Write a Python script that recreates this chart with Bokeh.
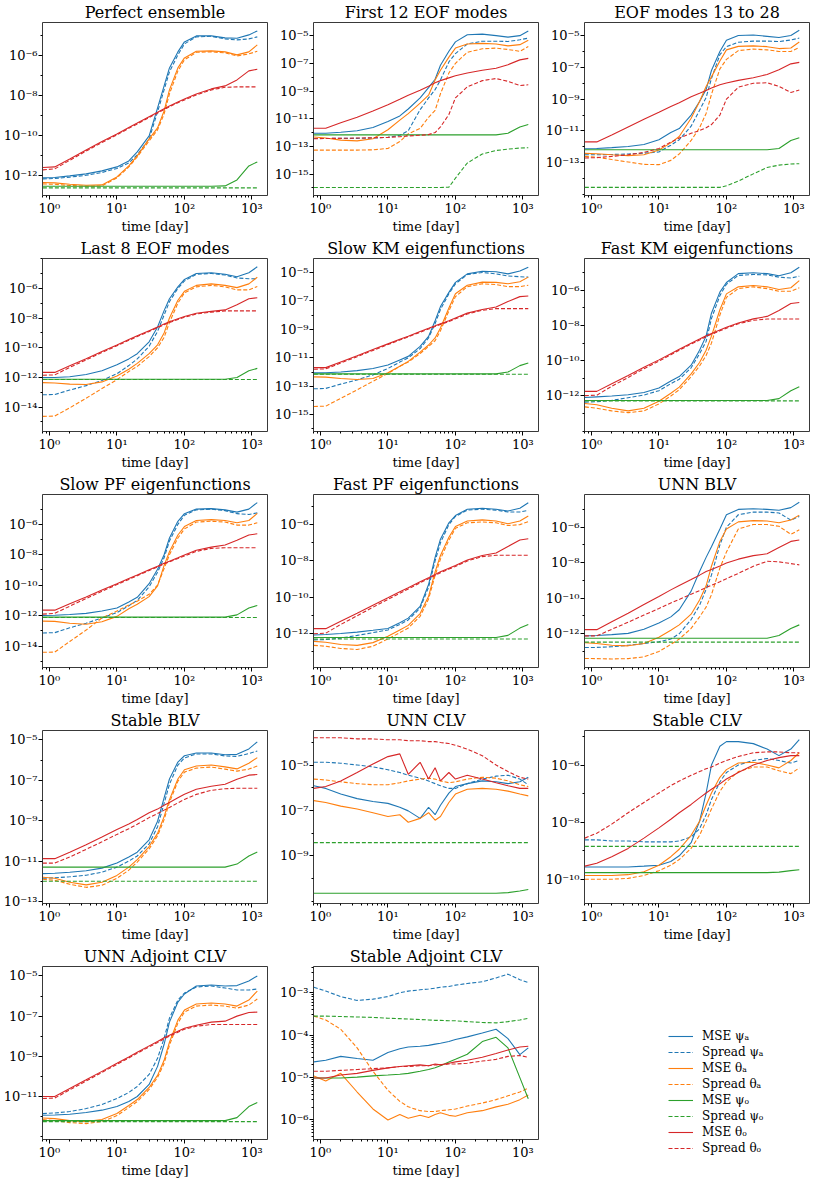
from bokeh.plotting import figure
from bokeh.layouts import row, column
from bokeh.models import Range1d, FixedTicker, Legend, LegendItem
from bokeh.embed import file_html
from bokeh.resources import INLINE

# ---------------- data (log10 of the plotted quantities) ----------------
T = [0.8, 1.2, 2, 3.5, 6, 10, 15, 20, 30, 40, 50, 60, 80, 100, 150, 250, 400, 600, 900, 1200]

# Perfect ensemble
p01_msepa = [-12.1, -12.08, -12.0, -11.9, -11.75, -11.55, -11.25, -10.8, -10.0, -8.6, -7.5, -6.6, -5.8, -5.3, -5.0, -5.0, -5.1, -5.12, -4.95, -4.75]
p01_sprpa = [-12.15, -12.13, -12.06, -11.97, -11.83, -11.63, -11.35, -10.95, -10.15, -8.8, -7.7, -6.8, -5.95, -5.4, -5.05, -5.02, -5.15, -5.2, -5.15, -5.05]
p01_mseta = [-12.33, -12.35, -12.42, -12.47, -12.45, -12.05, -11.5, -11.0, -10.15, -9.6, -8.75, -7.7, -6.6, -6.1, -5.77, -5.75, -5.8, -5.95, -5.8, -5.45]
p01_sprta = [-12.4, -12.42, -12.48, -12.52, -12.5, -12.1, -11.55, -11.05, -10.25, -9.7, -8.9, -7.9, -6.75, -6.2, -5.82, -5.8, -5.85, -6.0, -5.9, -5.77]
p01_msepo = [-12.52, -12.52, -12.52, -12.52, -12.52, -12.52, -12.52, -12.52, -12.52, -12.52, -12.52, -12.52, -12.52, -12.52, -12.52, -12.52, -12.5, -12.2, -11.5, -11.3]
p01_sprpo = [-12.6, -12.6, -12.6, -12.6, -12.6, -12.6, -12.6, -12.6, -12.6, -12.6, -12.6, -12.6, -12.6, -12.6, -12.6, -12.6, -12.6, -12.6, -12.6, -12.6]
p01_mseto = [-11.58, -11.55, -11.15, -10.7, -10.28, -9.91, -9.58, -9.36, -9.04, -8.82, -8.64, -8.5, -8.3, -8.15, -7.9, -7.65, -7.5, -7.2, -6.75, -6.67]
p01_sprto = [-11.7, -11.65, -11.22, -10.76, -10.33, -9.95, -9.62, -9.4, -9.08, -8.86, -8.68, -8.54, -8.34, -8.2, -7.95, -7.7, -7.57, -7.55, -7.55, -7.55]

# First 12 EOF modes
p02_msepa = [-12.05, -12.05, -11.98, -11.87, -11.64, -11.2, -10.8, -10.3, -9.5, -8.76, -8.15, -7.14, -6.13, -5.45, -4.93, -4.89, -5.0, -5.11, -5.0, -4.66]
p02_sprpa = [-12.43, -12.43, -12.42, -12.42, -12.4, -12.35, -12.2, -11.87, -10.35, -9.5, -8.9, -8.2, -6.9, -6.3, -5.6, -5.4, -5.4, -5.42, -5.3, -5.18]
p02_mseta = [-12.32, -12.4, -12.55, -12.6, -12.45, -11.8, -11.1, -10.63, -9.88, -9.3, -8.2, -7.5, -6.55, -5.9, -5.6, -5.56, -5.6, -5.74, -5.65, -5.34]
p02_sprta = [-13.27, -13.27, -13.27, -13.27, -13.25, -13.15, -12.65, -12.1, -11.7, -10.9, -10.4, -9.2, -7.7, -7.0, -6.2, -5.95, -5.9, -6.0, -6.13, -5.79]
p02_msepo = [-12.17, -12.17, -12.17, -12.17, -12.17, -12.17, -12.17, -12.17, -12.17, -12.17, -12.17, -12.17, -12.17, -12.17, -12.17, -12.17, -12.17, -12.05, -11.6, -11.42]
p02_sprpo = [-15.97, -15.97, -15.97, -15.97, -15.97, -15.97, -15.97, -15.97, -15.97, -15.97, -15.97, -15.97, -15.95, -15.3, -14.2, -13.55, -13.3, -13.2, -13.12, -13.1]
p02_mseto = [-11.69, -11.69, -11.3, -10.9, -10.45, -10.0, -9.6, -9.3, -8.95, -8.65, -8.4, -8.25, -8.05, -7.9, -7.7, -7.5, -7.35, -7.1, -6.75, -6.64]
p02_sprto = [-12.45, -12.43, -12.42, -12.4, -12.38, -12.35, -12.3, -12.25, -12.2, -12.15, -12.0, -11.6, -10.7, -9.5, -8.7, -8.25, -8.1, -8.3, -8.6, -8.55]

# EOF modes 13 to 28
p03_msepa = [-12.12, -12.1, -12.05, -11.98, -11.85, -11.55, -11.1, -10.85, -10.0, -9.15, -8.4, -7.2, -6.0, -5.3, -5.0, -4.97, -5.05, -5.12, -5.0, -4.67]
p03_sprpa = [-12.5, -12.5, -12.48, -12.45, -12.4, -12.32, -11.9, -11.55, -10.7, -9.7, -8.9, -7.7, -6.2, -5.7, -5.42, -5.35, -5.35, -5.38, -5.28, -5.16]
p03_mseta = [-12.41, -12.43, -12.5, -12.55, -12.5, -12.2, -11.75, -11.35, -10.2, -9.15, -8.2, -7.6, -6.6, -5.9, -5.68, -5.65, -5.7, -5.82, -5.78, -5.41]
p03_sprta = [-12.6, -12.65, -12.8, -12.95, -13.1, -13.12, -12.85, -12.45, -11.6, -10.8, -9.9, -8.7, -7.1, -6.5, -5.95, -5.85, -5.9, -6.0, -6.0, -5.75]
p03_msepo = [-12.18, -12.18, -12.18, -12.18, -12.18, -12.18, -12.18, -12.18, -12.18, -12.18, -12.18, -12.18, -12.18, -12.18, -12.18, -12.18, -12.18, -12.1, -11.6, -11.43]
p03_sprpo = [-14.55, -14.55, -14.55, -14.55, -14.55, -14.55, -14.55, -14.55, -14.55, -14.55, -14.55, -14.55, -14.55, -14.45, -14.15, -13.7, -13.3, -13.15, -13.08, -13.06]
p03_mseto = [-11.69, -11.69, -11.25, -10.75, -10.27, -9.83, -9.47, -9.22, -8.85, -8.63, -8.45, -8.3, -8.1, -7.98, -7.82, -7.65, -7.45, -7.15, -6.78, -6.69]
p03_sprto = [-12.7, -12.68, -12.6, -12.5, -12.35, -12.1, -11.7, -11.45, -11.15, -10.98, -10.8, -10.6, -10.0, -9.0, -8.25, -8.0, -7.97, -8.2, -8.58, -8.43]

# Last 8 EOF modes
p04_msepa = [-12.0, -12.0, -11.95, -11.8, -11.55, -11.15, -10.75, -10.4, -9.6, -8.6, -7.5, -6.7, -5.9, -5.4, -5.0, -4.95, -5.05, -5.22, -4.95, -4.55]
p04_sprpa = [-13.17, -13.15, -12.85, -12.55, -12.2, -11.75, -11.2, -10.75, -9.9, -8.9, -7.8, -6.9, -6.0, -5.5, -5.05, -5.0, -5.1, -5.3, -5.35, -5.37]
p04_mseta = [-12.35, -12.37, -12.45, -12.48, -12.3, -11.9, -11.45, -11.05, -10.4, -9.8, -9.0, -8.0, -6.8, -6.2, -5.8, -5.7, -5.8, -5.95, -5.7, -5.25]
p04_sprta = [-14.62, -14.6, -14.05, -13.4, -12.75, -12.15, -11.6, -11.25, -10.6, -10.0, -9.3, -8.3, -7.0, -6.3, -5.9, -5.8, -5.9, -6.1, -6.1, -5.87]
p04_msepo = [-12.12, -12.12, -12.12, -12.12, -12.12, -12.12, -12.12, -12.12, -12.12, -12.12, -12.12, -12.12, -12.12, -12.12, -12.12, -12.12, -12.12, -12.0, -11.55, -11.39]
p04_sprpo = [-12.14, -12.14, -12.14, -12.14, -12.14, -12.14, -12.14, -12.14, -12.14, -12.14, -12.14, -12.14, -12.14, -12.14, -12.14, -12.14, -12.14, -12.14, -12.14, -12.14]
p04_mseto = [-11.66, -11.66, -11.22, -10.74, -10.25, -9.81, -9.45, -9.2, -8.85, -8.6, -8.4, -8.25, -8.05, -7.9, -7.68, -7.55, -7.45, -7.1, -6.7, -6.63]
p04_sprto = [-11.85, -11.83, -11.32, -10.82, -10.32, -9.87, -9.5, -9.25, -8.9, -8.65, -8.45, -8.3, -8.1, -7.95, -7.73, -7.6, -7.52, -7.52, -7.52, -7.52]

# Slow KM eigenfunctions
p05_msepa = [-12.06, -12.05, -12.0, -11.9, -11.75, -11.5, -11.15, -10.9, -10.2, -9.5, -8.4, -7.4, -6.4, -5.7, -5.1, -4.92, -4.95, -5.1, -4.9, -4.63]
p05_sprpa = [-13.18, -13.15, -12.85, -12.55, -12.2, -11.75, -11.3, -11.0, -10.35, -9.6, -8.6, -7.6, -6.5, -5.8, -5.15, -5.0, -5.1, -5.25, -5.3, -5.33]
p05_mseta = [-12.34, -12.36, -12.45, -12.52, -12.45, -12.05, -11.6, -11.25, -10.6, -10.1, -9.6, -8.9, -7.5, -6.5, -5.9, -5.68, -5.7, -5.8, -5.65, -5.33]
p05_sprta = [-14.42, -14.4, -13.85, -13.25, -12.65, -12.1, -11.6, -11.3, -10.7, -10.2, -9.8, -9.1, -7.7, -6.7, -6.0, -5.8, -5.85, -6.0, -6.0, -5.9]
p05_msepo = [-12.13, -12.13, -12.13, -12.13, -12.13, -12.13, -12.13, -12.13, -12.13, -12.13, -12.13, -12.13, -12.13, -12.13, -12.13, -12.13, -12.13, -12.0, -11.55, -11.36]
p05_sprpo = [-12.16, -12.16, -12.16, -12.16, -12.16, -12.16, -12.16, -12.16, -12.16, -12.16, -12.16, -12.16, -12.16, -12.16, -12.16, -12.16, -12.16, -12.16, -12.16, -12.16]
p05_mseto = [-11.69, -11.69, -11.29, -10.86, -10.42, -10.02, -9.7, -9.48, -9.15, -8.93, -8.75, -8.6, -8.4, -8.2, -7.86, -7.6, -7.43, -7.05, -6.7, -6.66]
p05_sprto = [-11.8, -11.78, -11.36, -10.92, -10.48, -10.07, -9.75, -9.53, -9.2, -8.98, -8.8, -8.65, -8.45, -8.26, -7.92, -7.66, -7.54, -7.54, -7.54, -7.54]

# Fast KM eigenfunctions
p06_msepa = [-12.09, -12.05, -12.0, -11.93, -11.8, -11.55, -11.15, -10.9, -10.25, -9.4, -8.6, -7.3, -6.1, -5.55, -5.05, -5.0, -5.05, -5.17, -5.0, -4.69]
p06_sprpa = [-12.35, -12.33, -12.25, -12.1, -11.95, -11.7, -11.3, -11.05, -10.4, -9.6, -8.9, -7.6, -6.3, -5.65, -5.15, -5.1, -5.12, -5.25, -5.3, -5.2]
p06_mseta = [-12.43, -12.5, -12.7, -12.85, -12.7, -12.3, -11.85, -11.5, -10.75, -10.1, -9.4, -8.6, -7.1, -6.2, -5.8, -5.72, -5.8, -5.95, -5.85, -5.45]
p06_sprta = [-12.62, -12.7, -12.85, -12.95, -12.85, -12.45, -12.0, -11.65, -10.9, -10.3, -9.7, -9.0, -7.4, -6.4, -5.9, -5.8, -5.9, -6.05, -6.05, -5.85]
p06_msepo = [-12.26, -12.26, -12.26, -12.26, -12.26, -12.26, -12.26, -12.26, -12.26, -12.26, -12.26, -12.26, -12.26, -12.26, -12.26, -12.26, -12.26, -12.15, -11.7, -11.48]
p06_sprpo = [-12.28, -12.28, -12.28, -12.28, -12.28, -12.28, -12.28, -12.28, -12.28, -12.28, -12.28, -12.28, -12.28, -12.28, -12.28, -12.28, -12.28, -12.28, -12.28, -12.28]
p06_mseto = [-11.74, -11.74, -11.31, -10.84, -10.37, -9.95, -9.6, -9.35, -9.0, -8.77, -8.58, -8.45, -8.25, -8.1, -7.85, -7.62, -7.48, -7.15, -6.75, -6.69]
p06_sprto = [-11.98, -11.96, -11.45, -10.95, -10.45, -10.02, -9.66, -9.4, -9.05, -8.82, -8.63, -8.5, -8.3, -8.15, -7.9, -7.7, -7.63, -7.63, -7.63, -7.63]

# Slow PF eigenfunctions
p07_msepa = [-11.99, -11.98, -11.93, -11.85, -11.7, -11.5, -11.1, -10.8, -9.9, -8.95, -8.0, -6.9, -5.8, -5.3, -5.0, -4.97, -5.05, -5.2, -5.0, -4.57]
p07_sprpa = [-13.14, -13.12, -12.8, -12.5, -12.15, -11.8, -11.35, -11.0, -10.1, -9.15, -8.2, -7.1, -6.0, -5.4, -5.05, -5.0, -5.1, -5.3, -5.35, -5.25]
p07_mseta = [-12.36, -12.38, -12.5, -12.57, -12.4, -12.05, -11.55, -11.25, -10.75, -10.05, -8.7, -7.8, -6.7, -6.15, -5.75, -5.69, -5.75, -5.9, -5.75, -5.28]
p07_sprta = [-14.41, -14.4, -13.7, -12.95, -12.15, -11.7, -11.3, -11.05, -10.6, -10.0, -8.9, -8.0, -6.9, -6.3, -5.85, -5.8, -5.85, -6.05, -6.05, -5.9]
p07_msepo = [-12.1, -12.1, -12.1, -12.1, -12.1, -12.1, -12.1, -12.1, -12.1, -12.1, -12.1, -12.1, -12.1, -12.1, -12.1, -12.1, -12.1, -11.95, -11.5, -11.33]
p07_sprpo = [-12.12, -12.12, -12.12, -12.12, -12.12, -12.12, -12.12, -12.12, -12.12, -12.12, -12.12, -12.12, -12.12, -12.12, -12.12, -12.12, -12.12, -12.12, -12.12, -12.12]
p07_mseto = [-11.64, -11.64, -11.22, -10.77, -10.32, -9.9, -9.56, -9.33, -8.98, -8.75, -8.56, -8.42, -8.2, -8.02, -7.7, -7.5, -7.36, -7.05, -6.7, -6.62]
p07_sprto = [-11.9, -11.85, -11.38, -10.88, -10.4, -9.96, -9.62, -9.38, -9.03, -8.8, -8.6, -8.46, -8.25, -8.08, -7.78, -7.58, -7.54, -7.54, -7.54, -7.54]

# Fast PF eigenfunctions
p08_msepa = [-12.08, -12.05, -12.0, -11.92, -11.82, -11.72, -11.4, -11.15, -10.5, -9.3, -7.8, -6.8, -5.9, -5.5, -5.15, -5.1, -5.15, -5.25, -5.1, -4.79]
p08_sprpa = [-12.35, -12.33, -12.25, -12.1, -11.95, -11.8, -11.5, -11.25, -10.6, -9.45, -8.0, -7.0, -6.0, -5.55, -5.2, -5.15, -5.2, -5.3, -5.3, -5.22]
p08_mseta = [-12.43, -12.48, -12.6, -12.65, -12.5, -12.15, -11.8, -11.55, -10.9, -9.95, -8.6, -7.7, -6.7, -6.1, -5.8, -5.74, -5.8, -5.95, -5.8, -5.52]
p08_sprta = [-12.65, -12.7, -12.82, -12.88, -12.7, -12.3, -11.95, -11.7, -11.05, -10.1, -8.8, -7.9, -6.85, -6.2, -5.9, -5.85, -5.9, -6.05, -6.0, -5.83]
p08_msepo = [-12.22, -12.22, -12.22, -12.22, -12.22, -12.22, -12.22, -12.22, -12.22, -12.22, -12.22, -12.22, -12.22, -12.22, -12.22, -12.22, -12.22, -12.1, -11.7, -11.5]
p08_sprpo = [-12.3, -12.3, -12.3, -12.3, -12.3, -12.3, -12.3, -12.3, -12.3, -12.3, -12.3, -12.3, -12.3, -12.3, -12.3, -12.3, -12.3, -12.3, -12.3, -12.3]
p08_mseto = [-11.73, -11.73, -11.32, -10.88, -10.44, -10.03, -9.7, -9.48, -9.15, -8.93, -8.75, -8.6, -8.4, -8.25, -7.95, -7.7, -7.56, -7.2, -6.85, -6.78]
p08_sprto = [-12.01, -11.98, -11.5, -11.02, -10.55, -10.12, -9.78, -9.55, -9.2, -8.98, -8.8, -8.65, -8.45, -8.3, -8.0, -7.76, -7.69, -7.69, -7.69, -7.69]

# UNN BLV
p09_msepa = [-12.12, -12.1, -12.05, -11.98, -11.75, -11.4, -11.05, -10.65, -9.6, -8.5, -7.7, -7.1, -6.1, -5.3, -5.0, -4.96, -5.0, -5.05, -4.9, -4.6]
p09_sprpa = [-12.77, -12.77, -12.73, -12.65, -12.55, -12.45, -12.3, -12.0, -11.2, -10.4, -9.5, -8.7, -7.0, -6.0, -5.3, -5.15, -5.15, -5.2, -5.6, -5.4]
p09_mseta = [-12.51, -12.55, -12.65, -12.68, -12.55, -12.2, -11.8, -11.5, -10.9, -10.1, -9.3, -8.2, -6.8, -6.1, -5.7, -5.63, -5.65, -5.75, -5.6, -5.32]
p09_sprta = [-13.39, -13.4, -13.42, -13.4, -13.3, -13.0, -12.6, -12.3, -11.7, -11.05, -10.5, -9.8, -8.3, -7.4, -6.1, -5.85, -5.85, -5.95, -6.4, -6.15]
p09_msepo = [-12.25, -12.25, -12.25, -12.25, -12.25, -12.25, -12.25, -12.25, -12.25, -12.25, -12.25, -12.25, -12.25, -12.25, -12.25, -12.25, -12.25, -12.1, -11.7, -11.5]
p09_sprpo = [-12.47, -12.47, -12.47, -12.47, -12.47, -12.47, -12.47, -12.47, -12.47, -12.47, -12.47, -12.47, -12.47, -12.47, -12.47, -12.47, -12.47, -12.47, -12.47, -12.47]
p09_mseto = [-11.77, -11.77, -11.32, -10.84, -10.35, -9.9, -9.53, -9.28, -8.95, -8.7, -8.5, -8.38, -8.18, -8.02, -7.8, -7.6, -7.5, -7.15, -6.8, -6.72]
p09_sprto = [-12.12, -12.12, -11.75, -11.35, -10.95, -10.58, -10.27, -10.07, -9.77, -9.57, -9.4, -9.27, -9.07, -8.9, -8.6, -8.2, -7.92, -7.95, -8.05, -8.12]

# Stable BLV
p10_msepa = [-11.62, -11.6, -11.55, -11.48, -11.35, -11.1, -10.8, -10.56, -9.95, -9.03, -7.87, -6.94, -6.1, -5.79, -5.65, -5.65, -5.74, -5.72, -5.45, -5.1]
p10_sprpa = [-11.85, -11.83, -11.78, -11.7, -11.55, -11.3, -11.0, -10.75, -10.15, -9.3, -8.15, -7.2, -6.25, -5.9, -5.7, -5.7, -5.8, -5.82, -5.68, -5.55]
p10_mseta = [-11.8, -11.85, -12.05, -12.18, -12.05, -11.71, -11.3, -10.93, -10.28, -9.63, -8.8, -7.96, -6.94, -6.48, -6.3, -6.25, -6.34, -6.44, -6.16, -5.88]
p10_sprta = [-11.9, -11.95, -12.15, -12.3, -12.2, -11.85, -11.45, -11.05, -10.4, -9.75, -8.95, -8.1, -7.05, -6.6, -6.4, -6.35, -6.45, -6.55, -6.45, -6.3]
p10_msepo = [-11.3, -11.3, -11.3, -11.3, -11.3, -11.3, -11.3, -11.3, -11.3, -11.3, -11.3, -11.3, -11.3, -11.3, -11.3, -11.3, -11.3, -11.15, -10.75, -10.55]
p10_sprpo = [-12.0, -12.0, -12.0, -12.0, -12.0, -12.0, -12.0, -12.0, -12.0, -12.0, -12.0, -12.0, -12.0, -12.0, -12.0, -12.0, -12.0, -12.0, -12.0, -12.0]
p10_mseto = [-10.88, -10.88, -10.56, -10.19, -9.81, -9.44, -9.17, -8.94, -8.61, -8.43, -8.24, -8.1, -7.87, -7.69, -7.45, -7.3, -7.2, -6.95, -6.75, -6.72]
p10_sprto = [-11.1, -11.1, -10.8, -10.42, -10.05, -9.68, -9.4, -9.18, -8.85, -8.65, -8.48, -8.35, -8.12, -7.95, -7.7, -7.5, -7.42, -7.4, -7.4, -7.4]

# UNN CLV
p11_msepa = [-5.91, -6.03, -6.28, -6.48, -6.61, -6.69, -6.86, -7.02, -7.35, -6.86, -7.19, -6.77, -6.24, -5.95, -5.82, -5.7, -5.74, -5.82, -5.74, -5.54]
p11_sprpa = [-4.88, -4.88, -4.92, -5.0, -5.08, -5.21, -5.33, -5.45, -5.58, -5.7, -5.82, -5.91, -6.03, -6.03, -5.82, -5.62, -5.49, -5.45, -5.62, -5.87]
p11_mseta = [-6.57, -6.65, -6.81, -6.94, -7.1, -7.27, -7.19, -7.52, -7.35, -7.1, -7.43, -7.27, -6.65, -6.28, -6.07, -6.03, -6.07, -6.15, -6.28, -6.36]
p11_sprta = [-5.62, -5.66, -5.74, -5.82, -5.87, -5.87, -5.78, -5.7, -5.62, -5.58, -5.62, -5.7, -5.78, -5.74, -5.62, -5.54, -5.58, -5.7, -5.87, -5.95]
p11_msepo = [-10.65, -10.65, -10.65, -10.65, -10.65, -10.65, -10.65, -10.65, -10.65, -10.65, -10.65, -10.65, -10.65, -10.65, -10.65, -10.65, -10.65, -10.62, -10.55, -10.48]
p11_sprpo = [-8.42, -8.42, -8.42, -8.42, -8.42, -8.42, -8.42, -8.42, -8.42, -8.42, -8.42, -8.42, -8.42, -8.42, -8.42, -8.42, -8.42, -8.42, -8.42, -8.42]
p11_mseto = [-6.03, -5.95, -5.7, -5.33, -4.96, -4.63, -4.51, -5.41, -4.88, -5.62, -5.12, -5.7, -5.33, -5.62, -5.45, -5.62, -5.78, -5.91, -6.03, -6.03]
p11_sprto = [-3.8, -3.8, -3.8, -3.85, -3.85, -3.89, -3.89, -3.93, -3.93, -3.97, -3.97, -4.01, -4.05, -4.13, -4.3, -4.59, -5.0, -5.29, -5.54, -5.62]

# Stable CLV
p12_msepa = [-9.57, -9.57, -9.57, -9.57, -9.54, -9.51, -9.38, -9.18, -8.72, -7.97, -6.98, -6.0, -5.34, -5.18, -5.18, -5.25, -5.44, -5.67, -5.44, -5.11]
p12_sprpa = [-8.62, -8.62, -8.66, -8.66, -8.69, -8.69, -8.69, -8.66, -8.52, -8.23, -7.74, -7.21, -6.59, -6.26, -6.0, -5.84, -5.77, -5.84, -5.93, -5.84]
p12_mseta = [-9.87, -9.87, -9.87, -9.84, -9.74, -9.51, -9.21, -8.95, -8.46, -7.97, -7.41, -6.98, -6.43, -6.16, -5.93, -5.9, -6.0, -6.1, -5.84, -5.57]
p12_sprta = [-10.0, -10.0, -10.0, -9.97, -9.87, -9.7, -9.51, -9.31, -8.92, -8.46, -7.97, -7.54, -6.92, -6.59, -6.23, -6.07, -6.07, -6.2, -6.3, -6.1]
p12_msepo = [-9.77, -9.77, -9.77, -9.77, -9.77, -9.77, -9.77, -9.77, -9.77, -9.77, -9.77, -9.77, -9.77, -9.77, -9.77, -9.77, -9.77, -9.75, -9.7, -9.67]
p12_sprpo = [-8.85, -8.85, -8.85, -8.85, -8.85, -8.85, -8.85, -8.85, -8.85, -8.85, -8.85, -8.85, -8.85, -8.85, -8.85, -8.85, -8.85, -8.85, -8.85, -8.85]
p12_mseto = [-9.54, -9.44, -9.21, -8.92, -8.56, -8.2, -7.9, -7.67, -7.38, -7.15, -6.98, -6.85, -6.66, -6.49, -6.26, -6.0, -5.84, -5.74, -5.67, -5.67]
p12_sprto = [-8.56, -8.39, -8.07, -7.67, -7.31, -6.98, -6.72, -6.56, -6.36, -6.23, -6.13, -6.07, -5.93, -5.84, -5.7, -5.57, -5.54, -5.54, -5.57, -5.57]

# UNN Adjoint CLV
p13_msepa = [-11.93, -11.92, -11.88, -11.8, -11.68, -11.5, -11.25, -11.0, -10.4, -9.5, -8.4, -7.3, -6.3, -5.9, -5.5, -5.45, -5.5, -5.48, -5.25, -5.0]
p13_sprpa = [-11.85, -11.82, -11.75, -11.6, -11.4, -11.1, -10.8, -10.5, -9.9, -9.1, -8.1, -7.1, -6.2, -5.85, -5.55, -5.5, -5.6, -5.7, -5.7, -5.65]
p13_mseta = [-12.07, -12.1, -12.2, -12.25, -12.15, -11.85, -11.45, -11.15, -10.55, -9.95, -9.2, -8.3, -7.2, -6.7, -6.4, -6.35, -6.4, -6.5, -6.2, -5.75]
p13_sprta = [-12.15, -12.2, -12.3, -12.35, -12.25, -11.95, -11.55, -11.25, -10.65, -10.05, -9.35, -8.45, -7.35, -6.8, -6.5, -6.45, -6.5, -6.6, -6.45, -6.15]
p13_msepo = [-12.2, -12.2, -12.2, -12.2, -12.2, -12.2, -12.2, -12.2, -12.2, -12.2, -12.2, -12.2, -12.2, -12.2, -12.2, -12.2, -12.2, -12.05, -11.5, -11.3]
p13_sprpo = [-12.25, -12.25, -12.25, -12.25, -12.25, -12.25, -12.25, -12.25, -12.25, -12.25, -12.25, -12.25, -12.25, -12.25, -12.25, -12.25, -12.25, -12.25, -12.25, -12.25]
p13_mseto = [-11.0, -11.0, -10.6, -10.17, -9.75, -9.35, -9.03, -8.8, -8.48, -8.26, -8.08, -7.95, -7.75, -7.6, -7.45, -7.3, -7.25, -7.0, -6.82, -6.8]
p13_sprto = [-11.1, -11.08, -10.67, -10.23, -9.8, -9.4, -9.08, -8.85, -8.53, -8.31, -8.13, -8.0, -7.8, -7.65, -7.5, -7.42, -7.42, -7.42, -7.42, -7.42]

# Stable Adjoint CLV
p14_msepa = [-4.63, -4.59, -4.5, -4.55, -4.59, -4.41, -4.32, -4.28, -4.26, -4.24, -4.21, -4.19, -4.15, -4.1, -4.04, -3.95, -3.86, -4.08, -4.46, -4.3]
p14_sprpa = [-2.87, -2.96, -3.09, -3.18, -3.15, -3.09, -3.0, -2.96, -2.93, -2.91, -2.89, -2.87, -2.85, -2.82, -2.78, -2.74, -2.65, -2.56, -2.69, -2.76]
p14_mseta = [-4.96, -5.08, -4.9, -5.34, -5.74, -6.0, -5.87, -5.96, -5.89, -5.94, -5.87, -5.83, -5.89, -5.91, -5.83, -5.78, -5.69, -5.63, -5.52, -5.41]
p14_sprta = [-3.55, -3.64, -3.86, -4.3, -4.85, -5.3, -5.56, -5.69, -5.78, -5.8, -5.8, -5.78, -5.76, -5.74, -5.67, -5.6, -5.52, -5.43, -5.34, -5.25]
p14_msepo = [-5.01, -5.01, -5.01, -4.99, -4.96, -4.94, -4.92, -4.9, -4.85, -4.81, -4.77, -4.72, -4.63, -4.57, -4.45, -4.15, -4.05, -4.3, -5.0, -5.5]
p14_sprpo = [-3.55, -3.55, -3.56, -3.57, -3.58, -3.6, -3.61, -3.62, -3.63, -3.64, -3.65, -3.65, -3.66, -3.66, -3.68, -3.7, -3.71, -3.68, -3.64, -3.6]
p14_mseto = [-5.01, -5.01, -4.94, -4.9, -4.83, -4.77, -4.74, -4.72, -4.7, -4.72, -4.68, -4.7, -4.66, -4.63, -4.59, -4.52, -4.43, -4.35, -4.28, -4.26]
p14_sprto = [-4.85, -4.85, -4.83, -4.81, -4.79, -4.77, -4.74, -4.74, -4.72, -4.72, -4.7, -4.7, -4.68, -4.68, -4.66, -4.61, -4.57, -4.5, -4.48, -4.52]

TITLES = ["Perfect ensemble", "First 12 EOF modes", "EOF modes 13 to 28",
          "Last 8 EOF modes", "Slow KM eigenfunctions", "Fast KM eigenfunctions",
          "Slow PF eigenfunctions", "Fast PF eigenfunctions", "UNN BLV",
          "Stable BLV", "UNN CLV", "Stable CLV",
          "UNN Adjoint CLV", "Stable Adjoint CLV"]
# y-limits (log10) and labelled y-tick exponents of each panel
YLIMS = [(-12.98, -4.33), (-16.55, -4.05), (-15.06, -4.18),
         (-15.64, -3.99), (-16.18, -4.02), (-14.02, -4.19),
         (-15.41, -4.04), (-13.87, -4.34), (-13.9, -4.16),
         (-13.1, -4.54), (-11.1, -3.48), (-10.85, -4.79),
         (-13.14, -4.53), (-6.46, -2.38)]
YTICKS = [[-12, -10, -8, -6], [-15, -13, -11, -9, -7, -5], [-13, -11, -9, -7, -5],
          [-14, -12, -10, -8, -6], [-15, -13, -11, -9, -7, -5], [-12, -10, -8, -6],
          [-14, -12, -10, -8, -6], [-12, -10, -8, -6], [-12, -10, -8, -6],
          [-13, -11, -9, -7, -5], [-9, -7, -5], [-10, -8, -6],
          [-11, -9, -7, -5], [-6, -5, -4, -3]]
XTICKS = [0, 1, 2, 3]

PANEL_DATA = [
    [p01_msepa, p01_sprpa, p01_mseta, p01_sprta, p01_msepo, p01_sprpo, p01_mseto, p01_sprto],
    [p02_msepa, p02_sprpa, p02_mseta, p02_sprta, p02_msepo, p02_sprpo, p02_mseto, p02_sprto],
    [p03_msepa, p03_sprpa, p03_mseta, p03_sprta, p03_msepo, p03_sprpo, p03_mseto, p03_sprto],
    [p04_msepa, p04_sprpa, p04_mseta, p04_sprta, p04_msepo, p04_sprpo, p04_mseto, p04_sprto],
    [p05_msepa, p05_sprpa, p05_mseta, p05_sprta, p05_msepo, p05_sprpo, p05_mseto, p05_sprto],
    [p06_msepa, p06_sprpa, p06_mseta, p06_sprta, p06_msepo, p06_sprpo, p06_mseto, p06_sprto],
    [p07_msepa, p07_sprpa, p07_mseta, p07_sprta, p07_msepo, p07_sprpo, p07_mseto, p07_sprto],
    [p08_msepa, p08_sprpa, p08_mseta, p08_sprta, p08_msepo, p08_sprpo, p08_mseto, p08_sprto],
    [p09_msepa, p09_sprpa, p09_mseta, p09_sprta, p09_msepo, p09_sprpo, p09_mseto, p09_sprto],
    [p10_msepa, p10_sprpa, p10_mseta, p10_sprta, p10_msepo, p10_sprpo, p10_mseto, p10_sprto],
    [p11_msepa, p11_sprpa, p11_mseta, p11_sprta, p11_msepo, p11_sprpo, p11_mseto, p11_sprto],
    [p12_msepa, p12_sprpa, p12_mseta, p12_sprta, p12_msepo, p12_sprpo, p12_mseto, p12_sprto],
    [p13_msepa, p13_sprpa, p13_mseta, p13_sprta, p13_msepo, p13_sprpo, p13_mseto, p13_sprto],
    [p14_msepa, p14_sprpa, p14_mseta, p14_sprta, p14_msepo, p14_sprpo, p14_mseto, p14_sprto],
]

SERIES = [("MSE ψₐ", "#1f77b4", "solid"), ("Spread ψₐ", "#1f77b4", "4 2"),
          ("MSE θₐ", "#ff7f0e", "solid"), ("Spread θₐ", "#ff7f0e", "4 2"),
          ("MSE ψₒ", "#2ca02c", "solid"), ("Spread ψₒ", "#2ca02c", "4 2"),
          ("MSE θₒ", "#d62728", "solid"), ("Spread θₒ", "#d62728", "4 2")]

# ---------------- styling ----------------
FONT = "DejaVu Serif"
W, H = 271, 236
BL, BR = 40, 4
XMIN, XMAX = 0.79, 1700.0
SUP = str.maketrans("0123456789-", "⁰¹²³⁴⁵⁶⁷⁸⁹⁻")


def pow_label(e):
    return "10" + str(e).translate(SUP)


def style_axis(ax):
    ax.axis_line_color = None
    ax.major_tick_line_color = "black"
    ax.minor_tick_line_color = "black"
    ax.major_tick_in = 0
    ax.major_tick_out = 4
    ax.minor_tick_in = 0
    ax.minor_tick_out = 2
    ax.major_label_text_font = FONT
    ax.major_label_text_font_size = "13px"
    ax.major_label_text_color = "black"
    ax.major_label_text_line_height = 1.0
    ax.major_label_standoff = 1


def make_panel(title, ylim, yticks, data):
    lo, hi = ylim
    p = figure(width=W, height=H, x_axis_type="log", y_axis_type="log",
               x_range=Range1d(XMIN, XMAX), y_range=Range1d(10.0 ** lo, 10.0 ** hi),
               output_backend="svg", toolbar_location=None,
               min_border_left=BL, min_border_right=BR, min_border_top=0,
               min_border_bottom=0)
    p.title.text = title
    p.title.align = "center"
    p.title.text_font = FONT
    p.title.text_font_size = "16px"
    p.title.text_font_style = "normal"
    p.title.text_color = "black"
    p.title.text_line_height = 1.0
    p.title.standoff = 1
    p.grid.visible = False
    p.outline_line_color = "#222222"
    p.outline_line_width = 0.9

    # x axis
    xmaj = [10.0 ** e for e in XTICKS]
    xmin = [k * 10.0 ** e for e in range(-1, 4) for k in range(2, 10)]
    p.xaxis.ticker = FixedTicker(ticks=xmaj, minor_ticks=xmin)
    p.xaxis.major_label_overrides = {10.0 ** e: pow_label(e) for e in XTICKS}
    p.xaxis.axis_label = "time [day]"
    p.xaxis.axis_label_text_font = FONT
    p.xaxis.axis_label_text_font_size = "13px"
    p.xaxis.axis_label_text_font_style = "normal"
    p.xaxis.axis_label_text_color = "black"
    p.xaxis.axis_label_text_line_height = 1.0
    p.xaxis.axis_label_standoff = 0
    style_axis(p.xaxis[0])

    # y axis
    ymaj = [10.0 ** e for e in yticks]
    step = yticks[1] - yticks[0]
    if step == 1:
        ymin = [k * 10.0 ** e for e in range(int(lo) - 1, int(hi) + 1) for k in range(2, 10)]
    else:
        ymin = [10.0 ** e for e in range(int(lo) - 1, int(hi) + 1) if e not in yticks]
    p.yaxis.ticker = FixedTicker(ticks=ymaj, minor_ticks=ymin)
    p.yaxis.major_label_overrides = {10.0 ** e: pow_label(e) for e in yticks}
    style_axis(p.yaxis[0])

    for (label, color, dash), vals in zip(SERIES, data):
        p.line(T, [10.0 ** v for v in vals], line_color=color, line_width=1.1,
               line_dash=dash)
    return p


panels = [make_panel(t, yl, yt, d) for t, yl, yt, d in zip(TITLES, YLIMS, YTICKS, PANEL_DATA)]

# legend panel: a bare figure, frame spans the cell height
leg = figure(width=W, height=H, output_backend="svg", toolbar_location=None,
             x_range=Range1d(0, 1), y_range=Range1d(0, 1),
             x_axis_location=None, y_axis_location=None,
             min_border_left=BL, min_border_top=0, min_border_right=BR,
             min_border_bottom=0)
leg.grid.visible = False
leg.outline_line_color = None
items = []
for label, color, dash in SERIES:
    # two points outside the visible range: only the legend swatch is seen
    r = leg.line(x=[5, 6], y=[5, 6], line_color=color, line_width=1.1, line_dash=dash)
    items.append(LegendItem(label=label, renderers=[r]))
legend = Legend(items=items, location=(84, 25), padding=0, margin=0,
                glyph_width=25, glyph_height=14, label_height=14, spacing=2,
                label_standoff=9, label_text_font=FONT, label_text_font_size="12px",
                label_text_color="black",
                border_line_color=None, background_fill_alpha=0)
leg.add_layout(legend)

# columns of panels (avoids aligning the legend cell with its row neighbours)
layout = row(
    column(panels[0], panels[3], panels[6], panels[9], panels[12]),
    column(panels[1], panels[4], panels[7], panels[10], panels[13]),
    column(panels[2], panels[5], panels[8], panels[11], leg),
)

open("out.html", "w").write(file_html(layout, INLINE))
